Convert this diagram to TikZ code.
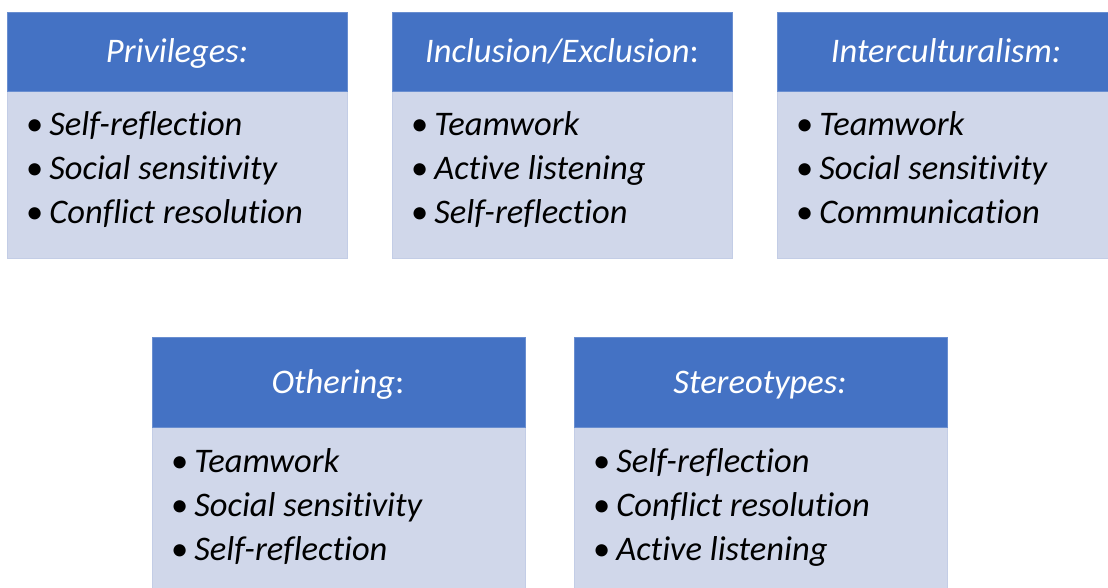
\documentclass[tikz,border=0pt]{standalone}
\usepackage{fontspec}
\setmainfont{Carlito}[Ligatures=NoCommon]
\definecolor{hdr}{HTML}{4472C4}
\definecolor{bdy}{HTML}{D0D7EA}
\definecolor{edge}{HTML}{C3CDE6}
\begin{document}
\begin{tikzpicture}[x=1pt,y=-1pt,
  hdrbox/.style={fill=hdr,draw=hdr!80!white,line width=0.8pt},
  bdybox/.style={fill=bdy,draw=edge,line width=0.8pt},
  hdrtext/.style={text=white,font=\fontsize{34.5}{40}\selectfont\itshape,anchor=base,inner sep=0pt},
  item/.style={text=black,font=\fontsize{34.5}{40}\selectfont,anchor=base west,inner sep=0pt}]
\clip (0,0) rectangle (1108,588);
\fill[white] (0,0) rectangle (1108,588);
% Box 1
\path[bdybox] (7,91) rectangle (347,258);
\path[hdrbox] (7,12) rectangle (347,91);
\node[hdrtext] (h1) at (177,63) {Privileges:};
\node[item] (a1) at (26,136) {•\hspace{6pt}\textit{Self-reflection}};
\node[item] (a2) at (26,180) {•\hspace{6pt}\textit{Social sensitivity}};
\node[item] (a3) at (26,224) {•\hspace{6pt}\textit{Conflict resolution}};
% Box 2
\path[bdybox] (392,91) rectangle (732,258);
\path[hdrbox] (392,12) rectangle (732,91);
\node[hdrtext] (h2) at (562,63) {\textit{Inclusion/Exclusion}\upshape:};
\node[item] (b1) at (411,136) {•\hspace{6pt}\textit{Teamwork}};
\node[item] (b2) at (411,180) {•\hspace{6pt}\textit{Active listening}};
\node[item] (b3) at (411,224) {•\hspace{6pt}\textit{Self-reflection}};
% Box 3
\path[bdybox] (777,91) rectangle (1117,258);
\path[hdrbox] (777,12) rectangle (1117,91);
\node[hdrtext] (h3) at (946,63) {Interculturalism:};
\node[item] (c1) at (796,136) {•\hspace{6pt}\textit{Teamwork}};
\node[item] (c2) at (796,180) {•\hspace{6pt}\textit{Social sensitivity}};
\node[item] (c3) at (796,224) {•\hspace{6pt}\textit{Communication}};
% Box 4
\path[bdybox] (152,427) rectangle (525,600);
\path[hdrbox] (152,337) rectangle (525,427);
\node[hdrtext] (h4) at (338,393) {\textit{Othering}\upshape:};
\node[item] (d1) at (171,472) {•\hspace{6pt}\textit{Teamwork}};
\node[item] (d2) at (171,516) {•\hspace{6pt}\textit{Social sensitivity}};
\node[item] (d3) at (171,560) {•\hspace{6pt}\textit{Self-reflection}};
% Box 5
\path[bdybox] (574,427) rectangle (947,600);
\path[hdrbox] (574,337) rectangle (947,427);
\node[hdrtext] (h5) at (760,393) {Stereotypes:};
\node[item] (e1) at (593,472) {•\hspace{6pt}\textit{Self-reflection}};
\node[item] (e2) at (593,516) {•\hspace{6pt}\textit{Conflict resolution}};
\node[item] (e3) at (593,560) {•\hspace{6pt}\textit{Active listening}};
\end{tikzpicture}
\end{document}
